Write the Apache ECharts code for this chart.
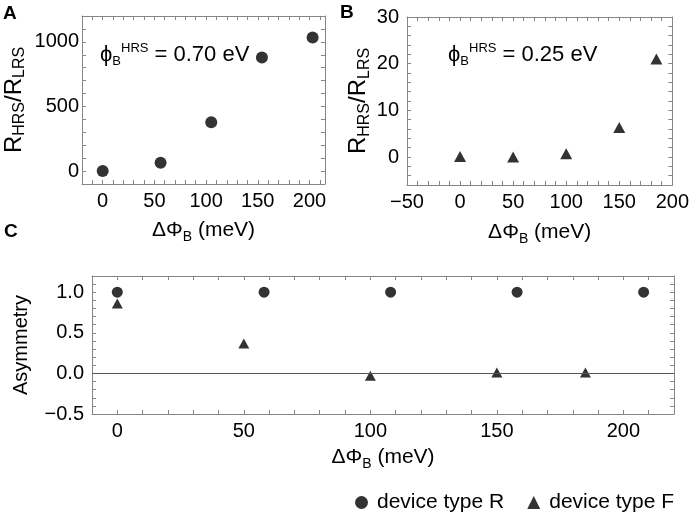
<!DOCTYPE html>
<html><head><meta charset="utf-8">
<script src="https://cdn.jsdelivr.net/npm/echarts@6/dist/echarts.min.js"></script>
<style>html,body{margin:0;padding:0;background:#fff}#c{width:692px;height:516px}</style>
</head><body><div id="c"></div>
<script>
// ---- Panel A (phi_B^HRS = 0.70 eV)
const aX = [0, 56, 105, 154, 203];
const aY = [0, 65, 378, 879, 1033];
// ---- Panel B (phi_B^HRS = 0.25 eV)
const bX = [0, 50, 100, 150, 185];
const bY = [0.1, 0.0, 0.7, 6.3, 21.0];
// ---- Panel C (asymmetry)
const cRX = [0, 58, 108, 158, 208];
const cRY = [1.0, 1.0, 1.0, 1.0, 1.0];
const cFX = [0, 50, 100, 150, 185];
const cFY = [0.86, 0.37, -0.03, 0.01, 0.01];
// ---- tick labels
const aXTicks = [0, 50, 100, 150, 200];
const aYTicks = [0, 500, 1000];
const bXTicks = [-50, 0, 50, 100, 150, 200];
const bYTicks = [0, 10, 20, 30];
const cXTicks = [0, 50, 100, 150, 200];
const cYTicks = [-0.5, 0.0, 0.5, 1.0];
const legendNames = ['device type R', 'device type F'];
const annA = '0.70 eV';
const annB = '0.25 eV';

const FONT = '"Liberation Sans", Arial, Helvetica, sans-serif';
const GRAY = '#868686';
const minus = s => String(s).replace('-', '\u2212');

// one axis per side; ticks every `step` (min is a multiple of step), labels only at the listed majors
function makeAxes(dim, grid, min, max, step, majors, fmt, labelOpt, nameOpt) {
  const pos = dim === 'x' ? ['bottom', 'top'] : ['left', 'right'];
  const isMajor = v => majors.some(m => Math.abs(m - v) < 1e-9);
  const base = {
    type: 'value', gridIndex: grid, min: min, max: max, interval: step,
    splitLine: { show: false },
    axisLine: { show: true, onZero: false, lineStyle: { color: GRAY, width: 1 } },
    axisTick: { show: true, inside: true, length: 4, lineStyle: { color: GRAY, width: 1 } }
  };
  const main = Object.assign({}, base, {
    position: pos[0],
    axisLabel: Object.assign({ show: true, color: '#000', fontFamily: FONT, fontSize: 20,
      showMinLabel: true, showMaxLabel: true,
      formatter: v => (isMajor(v) ? fmt(v) : '') }, labelOpt)
  }, nameOpt);
  const mirror = Object.assign({}, base, { position: pos[1], axisLabel: { show: false } });
  return [main, mirror];
}

function richName(text, mainSize, mainLH, subSize, gap) {
  return {
    name: text, nameLocation: 'middle', nameGap: gap,
    nameTextStyle: {
      color: '#000', fontFamily: FONT, fontSize: mainSize,
      rich: {
        n: { fontSize: mainSize, lineHeight: mainLH, fontFamily: FONT, color: '#000' },
        s: { fontSize: subSize, lineHeight: subSize, fontFamily: FONT, color: '#000', verticalAlign: 'bottom' }
      }
    }
  };
}

const dPhiName = '{n|\u0394\u03A6}{s|B}{n| (meV)}';
const rName = '{n|R}{s|HRS}{n|/R}{s|LRS}';
const fmt1 = v => minus(Number(v).toFixed(1));

const xAxes = [].concat(
  makeAxes('x', 0, -20, 215, 10, aXTicks, minus, { margin: 7 }, richName(dPhiName, 21, 28, 14, 32)),
  makeAxes('x', 1, -50, 200, 10, bXTicks, minus, { margin: 7 }, richName(dPhiName, 21, 28, 14, 33)),
  makeAxes('x', 2, -10, 220, 10, cXTicks, minus, { margin: 7 }, richName(dPhiName, 21, 28, 14, 29))
);
const yAxes = [].concat(
  makeAxes('y', 0, -100, 1200, 100, aYTicks, minus, { margin: 3 }, richName(rName, 24, 28, 16, 54)),
  makeAxes('y', 1, -6, 30, 2, bYTicks, minus, { margin: 8 }, richName(rName, 24, 28, 16, 33)),
  makeAxes('y', 2, -0.5, 1.2, 0.1, cYTicks, fmt1, { margin: 8 },
    { name: 'Asymmetry', nameLocation: 'middle', nameGap: 51,
      nameTextStyle: { color: '#000', fontFamily: FONT, fontSize: 20, lineHeight: 24 } })
);

const zip = (xs, ys) => xs.map((x, i) => [x, ys[i]]);
const annRich = {
  n: { fontSize: 22, lineHeight: 26, fontFamily: FONT, fontWeight: 'normal', color: '#000' },
  s: { fontSize: 13, lineHeight: 13, fontFamily: FONT, fontWeight: 'normal', color: '#000', verticalAlign: 'bottom' },
  u: { fontSize: 13, lineHeight: 13, fontFamily: FONT, fontWeight: 'normal', color: '#000', verticalAlign: 'top' }
};
const annStyle = { fontWeight: 'normal', fontFamily: FONT, color: '#000', rich: annRich };
const panelStyle = { fontSize: 19, fontWeight: 'bold', fontFamily: FONT, color: '#000' };

const option = {
  animation: false,
  title: [
    { text: 'A', left: 3, top: 4, padding: 0, textStyle: panelStyle },
    { text: 'B', left: 340, top: 3, padding: 0, textStyle: panelStyle },
    { text: 'C', left: 4, top: 222, padding: 0, textStyle: panelStyle },
    { text: '{n|\u03D5}{s|B}{u|HRS}{n| = ' + annA + '}', left: 100, top: 42, padding: 0, textStyle: annStyle },
    { text: '{n|\u03D5}{s|B}{u|HRS}{n| = ' + annB + '}', left: 448, top: 42, padding: 0, textStyle: annStyle }
  ],
  grid: [
    { left: 82, top: 16, width: 243, height: 168 },
    { left: 407, top: 17, width: 267, height: 168 },
    { left: 92, top: 276, width: 582, height: 138 }
  ],
  xAxis: xAxes,
  yAxis: yAxes,
  legend: {
    data: [{ name: legendNames[0], icon: 'circle' }, { name: legendNames[1], icon: 'triangle' }],
    left: 355, top: 492, padding: 0, itemWidth: 13, itemHeight: 13, itemGap: 23, selectedMode: false,
    textStyle: { fontSize: 21, fontFamily: FONT, color: '#000', padding: [0, 0, 0, 4] }
  },
  series: [
    { type: 'scatter', name: 'A', xAxisIndex: 0, yAxisIndex: 0, data: zip(aX, aY),
      symbol: 'circle', symbolSize: 12, itemStyle: { color: '#000' } },
    { type: 'scatter', name: 'B', xAxisIndex: 2, yAxisIndex: 2, data: zip(bX, bY),
      symbol: 'triangle', symbolSize: [12, 11], itemStyle: { color: '#000' } },
    { type: 'scatter', name: legendNames[0], xAxisIndex: 4, yAxisIndex: 4, data: zip(cRX, cRY),
      symbol: 'circle', symbolSize: 11, itemStyle: { color: '#000' } },
    { type: 'scatter', name: legendNames[1], xAxisIndex: 4, yAxisIndex: 4, data: zip(cFX, cFY),
      symbol: 'triangle', symbolSize: [11, 10], itemStyle: { color: '#000' },
      markLine: { silent: true, symbol: 'none', label: { show: false },
        lineStyle: { color: '#555', type: 'solid', width: 1 }, data: [{ yAxis: 0 }] } }
  ]
};
const chart = echarts.init(document.getElementById('c'));
chart.setOption(option);
</script>
</body></html>
